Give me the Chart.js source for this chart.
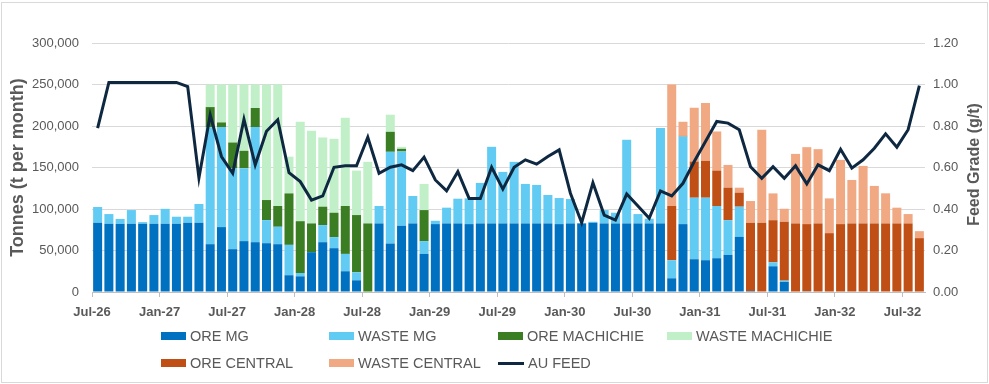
<!DOCTYPE html>
<html>
<head>
<meta charset="utf-8">
<script src="https://cdn.jsdelivr.net/npm/chart.js@4.4.1/dist/chart.umd.min.js"></script>
<style>
  html, body { margin: 0; padding: 0; background: #fff; }
  #wrap { position: relative; width: 989px; height: 384px; }
  #frame { position: absolute; left: 1px; top: 2px; width: 985px; height: 379px; border: 1px solid #d9d9d9; pointer-events: none; }
  .item { position: absolute; display: flex; align-items: center; height: 16px; white-space: nowrap;
          font-family: 'Liberation Sans', Arial, sans-serif; font-size: 14.5px; color: #595959; }
  .sw { width: 25px; height: 8px; margin-right: 4px; }
  .ln { width: 26px; height: 3px; margin-right: 4px; }
</style>
</head>
<body>
<div id="wrap">
  <canvas id="chart" width="989" height="384"></canvas>
  <div id="legend"></div>
  <div id="frame"></div>
</div>
<script>
const months = ["Jul-26","Aug-26","Sep-26","Oct-26","Nov-26","Dec-26",
  "Jan-27","Feb-27","Mar-27","Apr-27","May-27","Jun-27","Jul-27","Aug-27","Sep-27","Oct-27","Nov-27","Dec-27",
  "Jan-28","Feb-28","Mar-28","Apr-28","May-28","Jun-28","Jul-28","Aug-28","Sep-28","Oct-28","Nov-28","Dec-28",
  "Jan-29","Feb-29","Mar-29","Apr-29","May-29","Jun-29","Jul-29","Aug-29","Sep-29","Oct-29","Nov-29","Dec-29",
  "Jan-30","Feb-30","Mar-30","Apr-30","May-30","Jun-30","Jul-30","Aug-30","Sep-30","Oct-30","Nov-30","Dec-30",
  "Jan-31","Feb-31","Mar-31","Apr-31","May-31","Jun-31","Jul-31","Aug-31","Sep-31","Oct-31","Nov-31","Dec-31",
  "Jan-32","Feb-32","Mar-32","Apr-32","May-32","Jun-32","Jul-32","Aug-32"];

const oreMG = [83400,82200,82000,82200,82200,82200,82200,82200,83400,83400,
  57600,78200,51600,61300,60000,58800,57600,20200,18900,48000,
  60000,52800,25000,14100,0,82600,58400,79800,82600,45900,
  81800,82600,82600,81800,82600,82600,82600,82600,82600,82600,
  82600,81800,82600,82600,83400,82600,82600,82600,82600,82600,
  82600,16500,81800,39500,38300,40700,44700,66500,1200,0,
  31000,12100,0,800,0,0,0,0,0,0,0,0,0,0];

const wasteMG = [19000,11700,6000,16500,2000,10500,18000,8500,7300,22600,
  141000,120500,97500,87800,138700,27800,21000,36600,4000,0,
  20600,13300,20900,9700,0,21000,110500,89500,33100,15400,
  4000,19000,29800,31000,48800,92300,62100,74200,47600,46400,
  34300,31400,29400,500,1200,16100,12900,100800,11300,5700,
  114900,21800,105600,74100,75300,62900,41900,36300,0,0,
  4800,1600,0,0,0,0,0,0,0,0,0,0,0,0];

const oreMachichie = [0,0,0,0,0,0,0,0,0,0,
  24200,5600,31000,21000,23000,24200,25000,62000,62400,34600,
  22200,29400,57700,68900,82600,0,24100,3200,0,37400,
  0,0,0,0,0,0,0,0,0,0,0,0,0,0,0,0,0,0,0,0,
  0,0,0,0,0,0,0,0,0,0,0,0,0,0,0,0,0,0,0,0,0,0,0,0];

const wasteMachichie = [0,0,0,0,0,0,0,0,0,0,
  27000,45700,70000,80000,28400,139000,146400,44300,119700,111600,
  83400,89100,106400,53600,74200,0,20600,2400,0,31500,
  0,0,0,0,0,0,0,0,0,0,0,0,0,0,0,0,0,0,0,0,
  0,0,0,0,0,0,0,0,0,0,0,0,0,0,0,0,0,0,0,0,0,0,0,0];

const oreCentral = [0,0,0,0,0,0,0,0,0,0,0,0,0,0,0,0,0,0,0,0,
  0,0,0,0,0,0,0,0,0,0,0,0,0,0,0,0,0,0,0,0,
  0,0,0,0,0,0,0,0,0,0,0,
  65300,800,43600,44400,42700,39100,16900,82200,83400,
  50700,70900,82600,81000,82600,70900,81800,82600,82600,82600,
  82600,82600,82600,64900];

const wasteCentral = [0,0,0,0,0,0,0,0,0,0,0,0,0,0,0,0,0,0,0,0,
  0,0,0,0,0,0,0,0,0,0,0,0,0,0,0,0,0,0,0,0,
  0,0,0,0,0,0,0,0,0,0,0,
  146300,16900,64800,69700,47100,27400,6000,26200,112100,
  32300,15700,83800,92700,89500,41900,77400,52400,69300,45200,
  36300,19000,11300,8400];

const auFeed = [0.79,1.01,1.01,1.01,1.01,1.01,1.01,1.01,0.99,0.55,
  0.854,0.653,0.572,0.833,0.613,0.775,0.83,0.575,0.532,0.443,
  0.463,0.601,0.608,0.608,0.746,0.572,0.601,0.613,0.585,0.65,
  0.54,0.487,0.58,0.451,0.451,0.601,0.496,0.601,0.637,0.616,
  0.653,0.685,0.476,0.334,0.527,0.371,0.347,0.472,0.414,0.355,
  0.487,0.463,0.524,0.629,0.725,0.822,0.814,0.782,0.604,0.548,
  0.604,0.548,0.608,0.521,0.613,0.585,0.688,0.597,0.637,0.693,
  0.762,0.698,0.782,0.994];

const tonneTicks = [0, 50000, 100000, 150000, 200000, 250000, 300000];
const gradeTicks = [0, 0.2, 0.4, 0.6, 0.8, 1.0, 1.2];

const barNames = ["ORE MG", "WASTE MG", "ORE MACHICHIE", "WASTE MACHICHIE", "ORE CENTRAL", "WASTE CENTRAL"];
const barColors = ["#0070C0", "#61CBF3", "#3B7D23", "#C1F0C8", "#C04F15", "#F1A983"];
const barData = [oreMG, wasteMG, oreMachichie, wasteMachichie, oreCentral, wasteCentral];
const lineColor = "#0E2841";
const grey = "#595959";
const font = "'Liberation Sans', Arial, sans-serif";

Chart.defaults.font.family = font;
Chart.defaults.color = grey;

const datasets = barNames.map((name, i) => ({
  type: 'bar',
  label: name,
  data: barData[i],
  backgroundColor: barColors[i],
  borderWidth: 0,
  barPercentage: 0.8,
  categoryPercentage: 1.0,
  yAxisID: 'y',
  order: 1
}));
datasets.push({
  type: 'line',
  label: 'AU FEED',
  data: auFeed,
  borderColor: lineColor,
  borderWidth: 3,
  pointRadius: 0,
  tension: 0,
  fill: false,
  yAxisID: 'y1',
  order: 0
});

// right axis title reads bottom-to-top like the left one
const rightTitle = {
  id: 'rightTitle',
  afterDraw(chart) {
    const { ctx, chartArea } = chart;
    ctx.save();
    ctx.translate(975, (chartArea.top + chartArea.bottom) / 2 - 3);
    ctx.rotate(-Math.PI / 2);
    ctx.font = "bold 16px " + font;
    ctx.fillStyle = grey;
    ctx.textAlign = 'center';
    ctx.textBaseline = 'middle';
    ctx.fillText('Feed Grade (g/t)', 0, 0);
    ctx.restore();
  }
};

new Chart(document.getElementById('chart'), {
  data: { labels: months, datasets: datasets },
  options: {
    responsive: false,
    animation: false,
    layout: { padding: { top: 43, left: 0, right: 0, bottom: 0 } },
    plugins: { legend: { display: false }, tooltip: { enabled: false } },
    scales: {
      x: {
        stacked: true,
        offset: true,
        afterFit(scale) { scale.height = 92; },
        border: { color: '#bfbfbf' },
        grid: {
          offset: true,
          drawOnChartArea: false,
          drawTicks: true,
          tickLength: 5,
          color: ctx => (ctx.index % 6 === 0 ? '#bfbfbf' : 'rgba(0,0,0,0)')
        },
        ticks: {
          autoSkip: false,
          maxRotation: 0,
          minRotation: 0,
          padding: 8,
          labelOffset: -5.63,
          color: grey,
          font: { size: 13, weight: 'bold' },
          callback: (v, i) => (i % 6 === 0 ? months[i] : '')
        }
      },
      y: {
        stacked: true,
        position: 'left',
        min: 0,
        max: 300000,
        afterFit(scale) { scale.width = 92; },
        afterBuildTicks(scale) { scale.ticks = tonneTicks.map(v => ({ value: v })); },
        border: { display: false },
        grid: { color: '#d9d9d9', drawTicks: false },
        ticks: {
          padding: 13,
          color: grey,
          font: { size: 13 },
          callback: v => v.toLocaleString('en-US')
        },
        title: {
          display: true,
          text: 'Tonnes (t per month)',
          color: grey,
          font: { size: 18, weight: 'bold' },
          padding: { top: 7, bottom: 0 }
        }
      },
      y1: {
        position: 'right',
        min: 0,
        max: 1.2,
        afterFit(scale) { scale.width = 64; },
        afterBuildTicks(scale) { scale.ticks = gradeTicks.map(v => ({ value: v })); },
        border: { display: false },
        grid: { drawOnChartArea: false, drawTicks: false },
        ticks: {
          padding: 8,
          color: grey,
          font: { size: 13 },
          callback: v => v.toFixed(2)
        }
      }
    }
  },
  plugins: [rightTitle]
});

// legend laid out in columns like the original
const legendCols = [161, 329, 498, 667];
const legendRows = [336, 363];
const legendItems = barNames.map((n, i) => ({ name: n, color: barColors[i], line: false }));
legendItems.push({ name: 'AU FEED', color: lineColor, line: true });
const legendEl = document.getElementById('legend');
legendItems.forEach((it, i) => {
  const d = document.createElement('div');
  d.className = 'item';
  d.style.left = legendCols[i % 4] + 'px';
  d.style.top = (legendRows[Math.floor(i / 4)] - 8) + 'px';
  const s = document.createElement('span');
  s.className = it.line ? 'ln' : 'sw';
  s.style.background = it.color;
  d.appendChild(s);
  d.appendChild(document.createTextNode(it.name));
  legendEl.appendChild(d);
});
</script>
</body>
</html>
